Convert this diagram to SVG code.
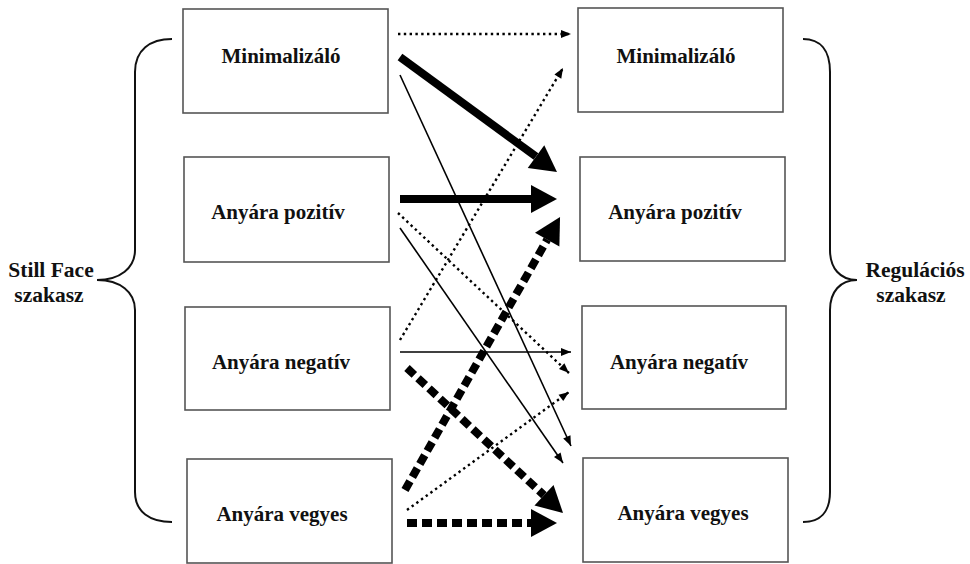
<svg xmlns="http://www.w3.org/2000/svg" width="970" height="564" viewBox="0 0 970 564">
<style>
.box{fill:#fff;stroke:#555;stroke-width:1.6}
.t{font-family:"Liberation Serif","Times New Roman",serif;font-weight:bold;font-size:21px;fill:#111;text-anchor:middle}
.lbl{font-family:"Liberation Serif","Times New Roman",serif;font-weight:bold;font-size:21.5px;fill:#111;text-anchor:middle}
.brace{fill:none;stroke:#111;stroke-width:2}
.thick{stroke:#000;stroke-width:8;fill:none}
.dash{stroke:#000;stroke-width:8;stroke-dasharray:10 5;fill:none}
.thin{stroke:#000;stroke-width:1.6;fill:none}
.dot{stroke:#000;stroke-width:2.4;stroke-dasharray:2.4 3.4;fill:none}
</style>
<defs>
<marker id="big" markerUnits="userSpaceOnUse" markerWidth="28" markerHeight="30" refX="0" refY="14" orient="auto" overflow="visible">
<path d="M0,0 L26,14 L0,28 z" fill="#000"/>
</marker>
<marker id="small" markerUnits="userSpaceOnUse" markerWidth="11" markerHeight="9" refX="10" refY="4" orient="auto" overflow="visible">
<path d="M0,0 L10,4 L0,8 z" fill="#000"/>
</marker>
</defs>
<rect width="970" height="564" fill="#fff"/>

<g id="brace-left">
<path class="brace" d="M172,39 C150,39 135,50 135,72 L135,250 C135,268 120,280 97,280 C120,280 135,292 135,310 L135,492 C135,512 150,522 172,522"/>
<text class="lbl" x="51" y="277">Still Face</text>
<text class="lbl" x="49" y="302">szakasz</text>
</g>
<g id="brace-right">
<path class="brace" d="M803,39 C820,39 830,50 830,72 L830,250 C830,268 840,280 857,280 C840,280 830,292 830,310 L830,492 C830,512 820,522 803,522"/>
<text class="lbl" x="915" y="277">Regulációs</text>
<text class="lbl" x="911" y="302">szakasz</text>
</g>

<g id="l-min"><rect class="box" x="183" y="9" width="205" height="104"/><text class="t" x="281" y="63">Minimalizáló</text></g>
<g id="l-poz"><rect class="box" x="184" y="157" width="205" height="105"/><text class="t" x="278" y="219">Anyára pozitív</text></g>
<g id="l-neg"><rect class="box" x="185" y="307" width="205" height="103"/><text class="t" x="281" y="369">Anyára negatív</text></g>
<g id="l-veg"><rect class="box" x="187" y="459" width="205" height="104"/><text class="t" x="282" y="521">Anyára vegyes</text></g>

<g id="r-min"><rect class="box" x="578" y="8" width="205" height="104"/><text class="t" x="676" y="63">Minimalizáló</text></g>
<g id="r-poz"><rect class="box" x="580" y="157" width="205" height="104"/><text class="t" x="675" y="219">Anyára pozitív</text></g>
<g id="r-neg"><rect class="box" x="582" y="306" width="204" height="103"/><text class="t" x="679" y="369">Anyára negatív</text></g>
<g id="r-veg"><rect class="box" x="583" y="458" width="205" height="104"/><text class="t" x="683" y="520">Anyára vegyes</text></g>

<g id="connectors">
<line class="dot" x1="398" y1="34" x2="571" y2="34" marker-end="url(#small)"/>
<line class="thick" x1="400" y1="57" x2="536" y2="156.6" marker-end="url(#big)"/>
<line class="thin" x1="400" y1="75" x2="571" y2="446" marker-end="url(#small)"/>
<line class="thick" x1="400" y1="199" x2="531" y2="199" marker-end="url(#big)"/>
<line class="dot" x1="398" y1="213" x2="569" y2="373" marker-end="url(#small)"/>
<line class="thin" x1="400" y1="228" x2="563" y2="463" marker-end="url(#small)"/>
<line class="dot" x1="400" y1="340" x2="563" y2="68" marker-end="url(#small)"/>
<line class="thin" x1="400" y1="352" x2="571" y2="352" marker-end="url(#small)"/>
<line class="dash" x1="407" y1="368" x2="544" y2="495.3" marker-end="url(#big)"/>
<line class="dash" x1="405" y1="490" x2="547.2" y2="239.6" marker-end="url(#big)"/>
<line class="dot" x1="407" y1="510" x2="569" y2="392" marker-end="url(#small)"/>
<line class="dash" x1="407" y1="523" x2="531" y2="523" marker-end="url(#big)"/>
</g>
</svg>
